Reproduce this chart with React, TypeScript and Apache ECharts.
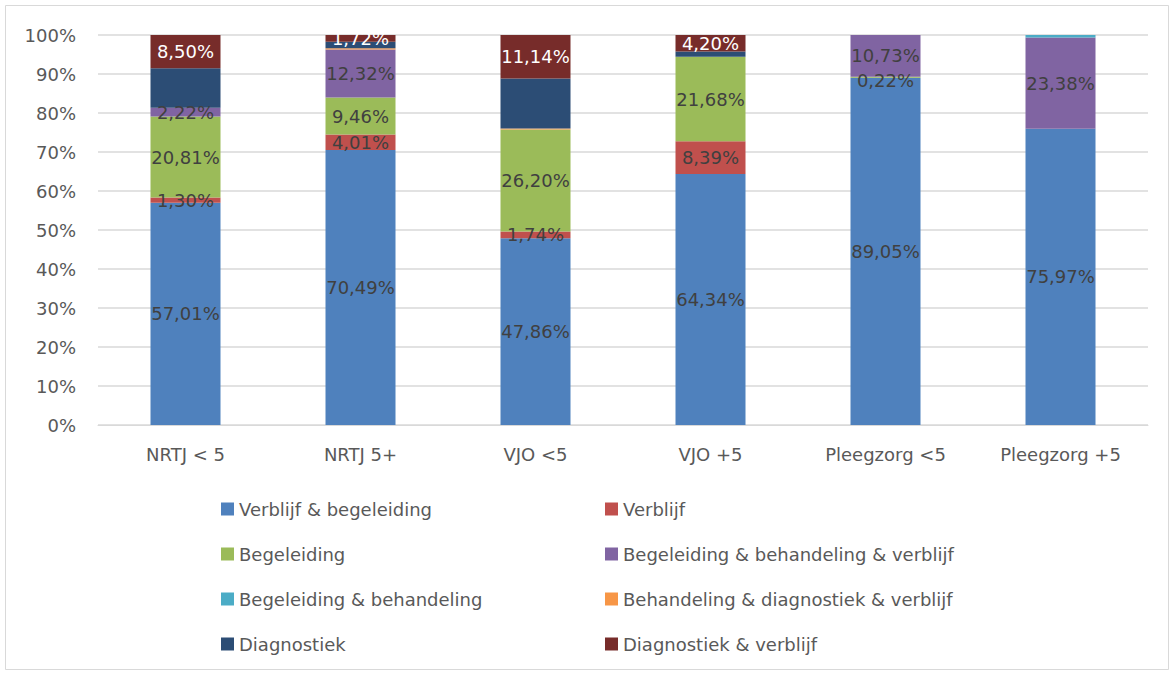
import React, { useEffect, useRef } from "react";
import * as echarts from "echarts";

const categories = ["NRTJ < 5", "NRTJ 5+", "VJO <5", "VJO +5", "Pleegzorg <5", "Pleegzorg +5"];

const seriesNames = [
  "Verblijf & begeleiding",
  "Verblijf",
  "Begeleiding",
  "Begeleiding & behandeling & verblijf",
  "Begeleiding & behandeling",
  "Behandeling & diagnostiek & verblijf",
  "Diagnostiek",
  "Diagnostiek & verblijf",
];

const verblijfBegeleiding = [57.01, 70.49, 47.86, 64.34, 89.05, 75.97];
const verblijf = [1.3, 4.01, 1.74, 8.39, 0, 0];
const begeleiding = [20.81, 9.46, 26.2, 21.68, 0.22, 0];
const begBehVerblijf = [2.22, 12.32, 0, 0, 10.73, 23.38];
const begBeh = [0, 0, 0, 0, 0, 0.65];
const behDiagVerblijf = [0, 0.3, 0.2, 0, 0, 0];
const diagnostiek = [10.16, 1.7, 12.86, 1.39, 0, 0];
const diagVerblijf = [8.5, 1.72, 11.14, 4.2, 0, 0];

const seriesValues = [
  verblijfBegeleiding,
  verblijf,
  begeleiding,
  begBehVerblijf,
  begBeh,
  behDiagVerblijf,
  diagnostiek,
  diagVerblijf,
];

const colors = ["#4F81BD", "#C0504D", "#9BBB59", "#8064A2", "#4BACC6", "#F79646", "#2C4D75", "#772C2A"];
const showLabel = [true, true, true, true, false, false, false, true];
const labelColors = ["#404040", "#404040", "#404040", "#404040", "#404040", "#404040", "#ffffff", "#ffffff"];

const yTicks = [0, 10, 20, 30, 40, 50, 60, 70, 80, 90, 100];

const FONT = "'DejaVu Sans', sans-serif";

export default function App() {
  const ref = useRef<HTMLDivElement>(null);
  useEffect(() => {
    if (!ref.current) return;
    const chart = echarts.init(ref.current, undefined, { renderer: "svg" });
    const series = seriesNames.map((name, i) => ({
      name,
      type: "bar",
      stack: "total",
      barWidth: 70,
      itemStyle: { color: colors[i] },
      label: {
        show: showLabel[i],
        position: "inside",
        color: labelColors[i],
        fontSize: 18,
        fontFamily: FONT,
        formatter: (p: any) =>
          p.value > 0 ? p.value.toFixed(2).replace(".", ",") + "%" : "",
      },
      data: seriesValues[i].map((v, j) =>
        i === 2 && j === 4 ? { value: v, label: { offset: [0, 3] } } : v
      ),
    }));
    const legendText = { color: "#595959", fontSize: 18, fontFamily: FONT, lineHeight: 20 };
    chart.setOption({
      animation: false,
      graphic: [
        {
          type: "rect",
          shape: { x: 5.5, y: 5.5, width: 1163, height: 664 },
          style: { fill: "none", stroke: "#d9d9d9", lineWidth: 1 },
          silent: true,
        },
      ],
      grid: { left: 98, right: 26, top: 35, bottom: 250, containLabel: false },
      legend: [
        {
          orient: "vertical",
          left: 216,
          top: 494,
          itemWidth: 13,
          itemHeight: 13,
          itemGap: 25,
          icon: "rect",
          data: [seriesNames[0], seriesNames[2], seriesNames[4], seriesNames[6]],
          textStyle: legendText,
        },
        {
          orient: "vertical",
          left: 600,
          top: 494,
          itemWidth: 13,
          itemHeight: 13,
          itemGap: 25,
          icon: "rect",
          data: [seriesNames[1], seriesNames[3], seriesNames[5], seriesNames[7]],
          textStyle: legendText,
        },
      ],
      xAxis: {
        type: "category",
        data: categories,
        axisLine: { lineStyle: { color: "#d9d9d9", width: 1 } },
        axisTick: { show: false },
        axisLabel: { color: "#595959", fontSize: 18, fontFamily: FONT, margin: 20 },
      },
      yAxis: {
        type: "value",
        min: yTicks[0],
        max: yTicks[yTicks.length - 1],
        interval: 10,
        axisLine: { show: false },
        axisTick: { show: false },
        splitLine: { lineStyle: { color: "#d9d9d9", width: 1.5 } },
        axisLabel: {
          color: "#595959",
          fontSize: 18,
          fontFamily: FONT,
          margin: 22,
          formatter: "{value}%",
        },
      },
      series,
    });
    return () => chart.dispose();
  }, []);
  return (
    <div
      ref={ref}
      style={{ position: "fixed", left: 0, top: 0, width: 1174, height: 675, background: "#fff" }}
    />
  );
}
